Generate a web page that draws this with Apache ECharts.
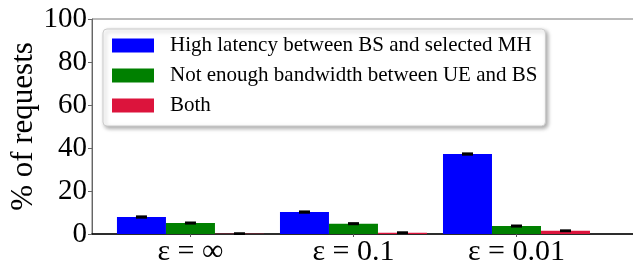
<!DOCTYPE html>
<html>
<head>
<meta charset="utf-8">
<script src="https://cdn.jsdelivr.net/npm/echarts@6/dist/echarts.min.js"></script>
<style>html,body{margin:0;padding:0;background:#fff}#c{width:633px;height:266px}</style>
</head>
<body>
<div id="c"></div>
<script>
const categories = ['ε = ∞', 'ε = 0.1', 'ε = 0.01'];
const seriesNames = ['High latency between BS and selected MH', 'Not enough bandwidth between UE and BS', 'Both'];
const highLatency = [7.9, 10.2, 37.2];
const noBandwidth = [5.1, 4.8, 3.7];
const both = [0.15, 0.6, 1.5];
const highLatencyErr = [0.3, 0.3, 0.3];
const noBandwidthErr = [0.25, 0.25, 0.25];
const bothErr = [0.2, 0.2, 0.2];
const yTicks = [0, 20, 40, 60, 80, 100];

const colors = ['#0000ff', '#008000', '#dc143c'];
const FONT = '"Liberation Serif", "DejaVu Serif", serif';
const BAR_W = 49;
const CAP = 5.5;

function barSeries(name, vals, color) {
  return {
    name: name, type: 'bar', barWidth: BAR_W, barGap: '0%',
    itemStyle: { color: color },
    data: vals.map((v, i) => [i, v])
  };
}
function errSeries(vals, errs, idx) {
  return {
    type: 'custom', z: 10, silent: true,
    data: vals.map((v, i) => [i, v, errs[i]]),
    renderItem: function (params, api) {
      const x = api.value(0), y = api.value(1), e = api.value(2);
      const top = api.coord([x, y + e]);
      const bot = api.coord([x, Math.max(0, y - e)]);
      const cx = top[0] + (idx - 1) * BAR_W;
      const st = { stroke: '#000', lineWidth: 2 };
      return { type: 'group', children: [
        { type: 'line', shape: { x1: cx, y1: top[1], x2: cx, y2: bot[1] }, style: { stroke: '#000', lineWidth: 1.5 } },
        { type: 'line', shape: { x1: cx - CAP, y1: top[1], x2: cx + CAP, y2: top[1] }, style: st },
        { type: 'line', shape: { x1: cx - CAP, y1: bot[1], x2: cx + CAP, y2: bot[1] }, style: st }
      ]};
    }
  };
}

const chart = echarts.init(document.getElementById('c'));
chart.setOption({
  animation: false,
  grid: { left: 92, top: 19, bottom: 32, right: -2, outerBoundsMode: 'none', containLabel: false, show: true, borderColor: '#777', borderWidth: 1, backgroundColor: 'transparent' },
  legend: {
    orient: 'vertical', left: 103, top: 29,
    data: seriesNames,
    backgroundColor: '#fff', borderColor: '#cccccc', borderWidth: 1, borderRadius: 4,
    shadowBlur: 4, shadowColor: 'rgba(0,0,0,0.35)', shadowOffsetX: 2, shadowOffsetY: 2,
    padding: [6, 8, 10, 9],
    itemWidth: 42, itemHeight: 14, itemGap: 9,
    icon: 'rect',
    textStyle: { fontFamily: FONT, fontSize: 21, color: '#000', lineHeight: 21, padding: [0, 0, 0, 11] }
  },
  xAxis: {
    type: 'value', min: -0.604, max: 2.727,
    splitLine: { show: false },
    axisLine: { show: true, onZero: false, lineStyle: { color: '#000', width: 1.5 } },
    axisTick: { show: true, customValues: [0, 1, 2], length: 3, lineStyle: { color: '#555' } },
    axisLabel: { customValues: [0, 1, 2], formatter: v => categories[Math.round(v)], fontFamily: FONT, fontSize: 30, color: '#000', margin: 3 }
  },
  yAxis: {
    type: 'value', min: 0, max: 100, interval: 20,
    name: '% of requests', nameLocation: 'middle', nameGap: 53, nameMoveOverlap: false,
    nameTextStyle: { fontFamily: FONT, fontSize: 31, color: '#000' },
    splitLine: { show: false },
    axisLine: { show: true, onZero: false, lineStyle: { color: '#666', width: 1 } },
    axisTick: { show: true, length: 4, lineStyle: { color: '#666' } },
    axisLabel: { fontFamily: FONT, fontSize: 29, color: '#000', margin: 5, formatter: v => yTicks.includes(v) ? String(v) : '' }
  },
  series: [
    barSeries(seriesNames[0], highLatency, colors[0]),
    barSeries(seriesNames[1], noBandwidth, colors[1]),
    barSeries(seriesNames[2], both, colors[2]),
    errSeries(highLatency, highLatencyErr, 0),
    errSeries(noBandwidth, noBandwidthErr, 1),
    errSeries(both, bothErr, 2)
  ]
});
</script>
</body>
</html>
